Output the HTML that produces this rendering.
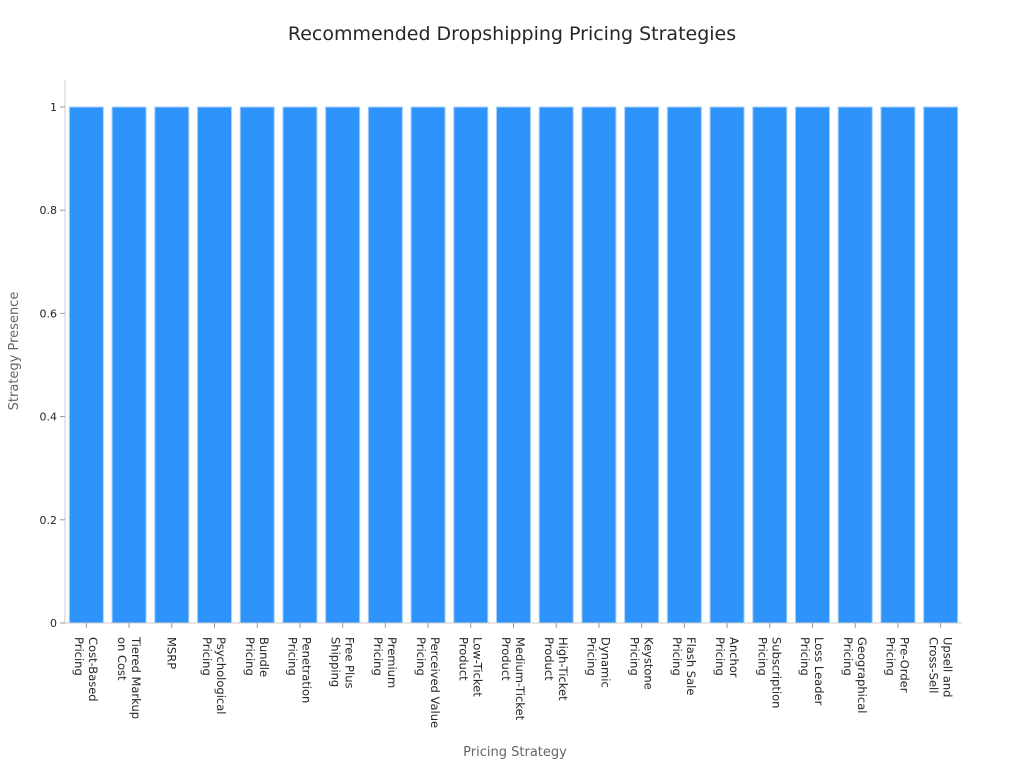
<!DOCTYPE html>
<html><head><meta charset="utf-8"><style>
body{margin:0;background:#fff;font-family:"Liberation Sans","DejaVu Sans",sans-serif}
</style></head><body>
<svg id="chart" width="1024" height="768" xmlns="http://www.w3.org/2000/svg" font-family="DejaVu Sans, Liberation Sans, sans-serif">
<text x="512" y="40" text-anchor="middle" font-size="19" fill="#262626">Recommended Dropshipping Pricing Strategies</text>
<text transform="translate(18,351) rotate(-90)" text-anchor="middle" font-size="13" fill="#666">Strategy Presence</text>
<text x="515" y="756" text-anchor="middle" font-size="13" fill="#666">Pricing Strategy</text>
<g id="bars"></g><g id="axes"></g>
</svg>
<script>
const categories=[["Cost-Based","Pricing"],["Tiered Markup","on Cost"],["MSRP"],["Psychological","Pricing"],["Bundle","Pricing"],["Penetration","Pricing"],["Free Plus","Shipping"],["Premium","Pricing"],["Perceived Value","Pricing"],["Low-Ticket","Product"],["Medium-Ticket","Product"],["High-Ticket","Product"],["Dynamic","Pricing"],["Keystone","Pricing"],["Flash Sale","Pricing"],["Anchor","Pricing"],["Subscription","Pricing"],["Loss Leader","Pricing"],["Geographical","Pricing"],["Pre-Order","Pricing"],["Upsell and","Cross-Sell"]];
const values=[1,1,1,1,1,1,1,1,1,1,1,1,1,1,1,1,1,1,1,1,1];
const yTicks=[0,0.2,0.4,0.6,0.8,1];
const yTickLabels=["0","0.2","0.4","0.6","0.8","1"];
const NS="http://www.w3.org/2000/svg";
const x0=65,x1=962,yBase=623,yTop=107,yMax=1;
const step=(x1-x0)/categories.length;
const xc=i=>x0+step*(i+0.5);
const y=v=>yBase-(v/yMax)*(yBase-yTop);
const bars=document.getElementById('bars'),axes=document.getElementById('axes');
function mk(t,a,p){const e=document.createElementNS(NS,t);for(const k in a)e.setAttribute(k,a[k]);p.appendChild(e);return e;}
values.forEach((v,i)=>{
 const r=mk('rect',{x:xc(i)-17,y:y(v),width:34,height:yBase-y(v),fill:'#2e93fa',stroke:'#a9cff7','stroke-width':1},bars);
 
 
});
const ax=mk('line',{x1:x0,y1:80,x2:x0,y2:yBase,stroke:'#ccc','stroke-width':1},axes);


const bx=mk('line',{x1:x0,y1:yBase,x2:x1,y2:yBase,stroke:'#ccc','stroke-width':1},axes);


yTicks.forEach((t,i)=>{
 mk('line',{x1:x0-5,y1:y(t),x2:x0,y2:y(t),stroke:'#999'},axes);
 const tx=mk('text',{x:x0-8,y:y(t)+4,'text-anchor':'end','font-size':11,fill:'#262626'},axes);
 tx.textContent=yTickLabels[i];
 
 
});
categories.forEach((lines,i)=>{
 const c=xc(i);
 mk('line',{x1:c,y1:yBase,x2:c,y2:yBase+5,stroke:'#999'},axes);
 const g=mk('g',{transform:`translate(${c},637) rotate(90)`},axes);
 
 
 const offs=lines.length===1?[4.3]:[-2.7,11.3];
 lines.forEach((ln,j)=>{
  const t=mk('text',{x:0,y:offs[j],'font-size':11.5,fill:'#262626'},g);
  t.textContent=ln;
 });
});
</script>
</body></html>
